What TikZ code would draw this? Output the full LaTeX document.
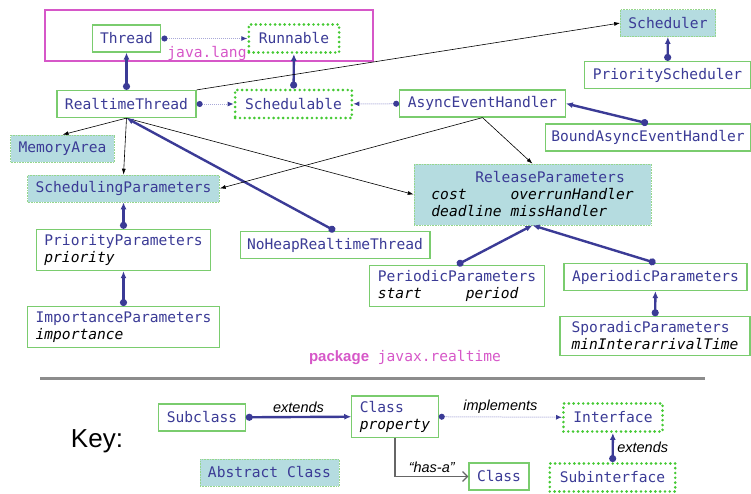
\documentclass[tikz,border=0pt]{standalone}
\usepackage{fontspec}
\setmainfont{Liberation Sans}
\setmonofont{DejaVu Sans Mono}
\usetikzlibrary{arrows.meta}
\definecolor{navy}{HTML}{3B3B96}
\definecolor{boxgreen}{HTML}{7ACC6E}
\definecolor{dotgreen}{HTML}{44C933}
\definecolor{abstractfill}{HTML}{B5DCE0}
\definecolor{pkgmagenta}{HTML}{D657C8}
\definecolor{dotline}{HTML}{A8A8D8}
\newcommand{\attr}[1]{{\color{black}\itshape #1}}

\begin{document}
\begin{tikzpicture}[x=1pt, y=-1pt,
    every node/.style={font=\fontsize{14.6}{17}\selectfont\ttfamily, text=navy},
    cls/.style={draw=boxgreen, line width=1.2pt, fill=white, inner xsep=8pt, inner ysep=5pt, minimum height=27pt, align=left},
    iface/.style={draw=dotgreen, line width=2.9pt, dash pattern=on 0pt off 4.8pt, line cap=round, inner xsep=10pt, minimum height=28pt},
    abstr/.style={fill=abstractfill, draw=boxgreen!80, densely dotted, line width=0.6pt, inner xsep=8pt, minimum height=27pt, align=left},
    ext/.style={navy, line width=2.4pt, {Circle[length=7pt]}-{Latex[length=7pt,width=6pt]}},
    impl/.style={dotline, densely dotted, line width=1pt, {Circle[length=6pt,color=navy]}-{Latex[length=6pt,width=5pt,color=navy]}},
    hasa/.style={black, line width=0.6pt, -{Latex[length=6pt,width=4pt]}},
    lbl/.style={text=black, font=\fontsize{14.5}{17}\selectfont\rmfamily\itshape}]
    \useasboundingbox (0,0) rectangle (751,493);

    \draw[pkgmagenta, line width=1.2pt] (45,10) rectangle (373,61);
    \node[text=pkgmagenta] (javalang) at (207,53) {java.lang};
    \node[cls] (thread) at (126.5,38.5) {Thread};
    \node[iface] (runnable) at (294,38.5) {Runnable};
    \node[cls] (rtt) at (126.5,104) {RealtimeThread};
    \node[iface] (schedulable) at (293.5,104) {Schedulable};
    \node[cls] (aeh) at (482.5,103.5) {AsyncEventHandler};
    \node[abstr] (scheduler) at (668,23) {Scheduler};
    \node[cls] (prisched) at (667.5,75) {PriorityScheduler};
    \node[cls, inner xsep=6pt] (baeh) at (648,137.5) {BoundAsyncEventHandler};
    \node[abstr] (memarea) at (62.5,148.5) {MemoryArea};
    \node[abstr] (schedparams) at (123.5,188.5) {SchedulingParameters};
    \node[abstr, minimum width=237pt, minimum height=61pt] (relparams) at (532.5,194.5)
        {\hphantom{xxxxx}ReleaseParameters\\\attr{cost\hphantom{xxxxx}overrunHandler}\\\attr{deadline\hphantom{x}missHandler}};
    \node[cls, inner xsep=7pt] (noheap) at (335,245) {NoHeapRealtimeThread};
    \node[cls] (priparams) at (123.5,250) {PriorityParameters\\\attr{priority}};
    \node[cls] (impparams) at (123.5,327) {ImportanceParameters\\\attr{importance}};
    \node[cls] (perparams) at (457,286) {PeriodicParameters\\\attr{start\hphantom{xxxxx}period}};
    \node[cls] (aperparams) at (655.5,277) {AperiodicParameters};
    \node[cls, minimum width=190pt] (sporparams) at (655,336) {SporadicParameters\\\attr{minInterarrivalTime}};
    \node[text=pkgmagenta] (pkg) at (405,357)
        {{\rmfamily\bfseries\fontsize{15}{17}\selectfont package} javax.realtime};

    \draw[impl] (thread) -- (runnable);
    \draw[ext] (rtt) -- (thread);
    \draw[ext] (schedulable) -- (runnable);
    \draw[impl] (rtt) -- (schedulable);
    \draw[impl] (aeh) -- (schedulable);
    \draw[ext] (prisched) -- (scheduler);
    \draw[ext] (baeh.north) -- (aeh.east);
    \draw[hasa] (rtt.north east) -- (scheduler.west);
    \draw[hasa] (rtt.south) -- (memarea.north);
    \draw[hasa] (rtt.south) -- (schedparams.north);
    \draw[hasa] (rtt.south) -- (relparams.west);
    \draw[ext] (noheap.north) -- (rtt.south);
    \draw[hasa] (aeh.south) -- (schedparams.east);
    \draw[hasa] (aeh.south) -- (relparams.north);
    \draw[ext] (priparams) -- (schedparams);
    \draw[ext] (impparams) -- (priparams);
    \draw[ext] (perparams.north) -- (relparams.south);
    \draw[ext] (aperparams.north) -- (relparams.south);
    \draw[ext] (sporparams) -- (aperparams);

    \draw[black!45, line width=3pt] (40,378) -- (705,378);

    \node[text=black, font=\fontsize{26}{30}\selectfont\rmfamily] (key) at (97,441) {Key:};
    \node[cls] (subclass) at (202,417.5) {Subclass};
    \node[cls] (superclass) at (395,416.5) {Class\\\attr{property}};
    \node[iface] (interface) at (613,417.5) {Interface};
    \node[iface] (subinterface) at (612.5,477.5) {Subinterface};
    \node[cls] (hasclass) at (499,476.5) {Class};
    \node[abstr] (abstractcls) at (269.5,472.5) {Abstract Class};

    \draw[ext] (subclass) -- node[lbl, above] {extends} (superclass);
    \draw[impl] (superclass) -- node[lbl, above] {implements} (interface);
    \draw[ext] (subinterface) -- node[lbl, right] {extends} (interface);
    \draw[black!60, line width=1.2pt, -{Straight Barb[length=5pt]}] (superclass.south) |- node[lbl, above, pos=0.75] {“has-a”} (hasclass.west);
\end{tikzpicture}
\end{document}
